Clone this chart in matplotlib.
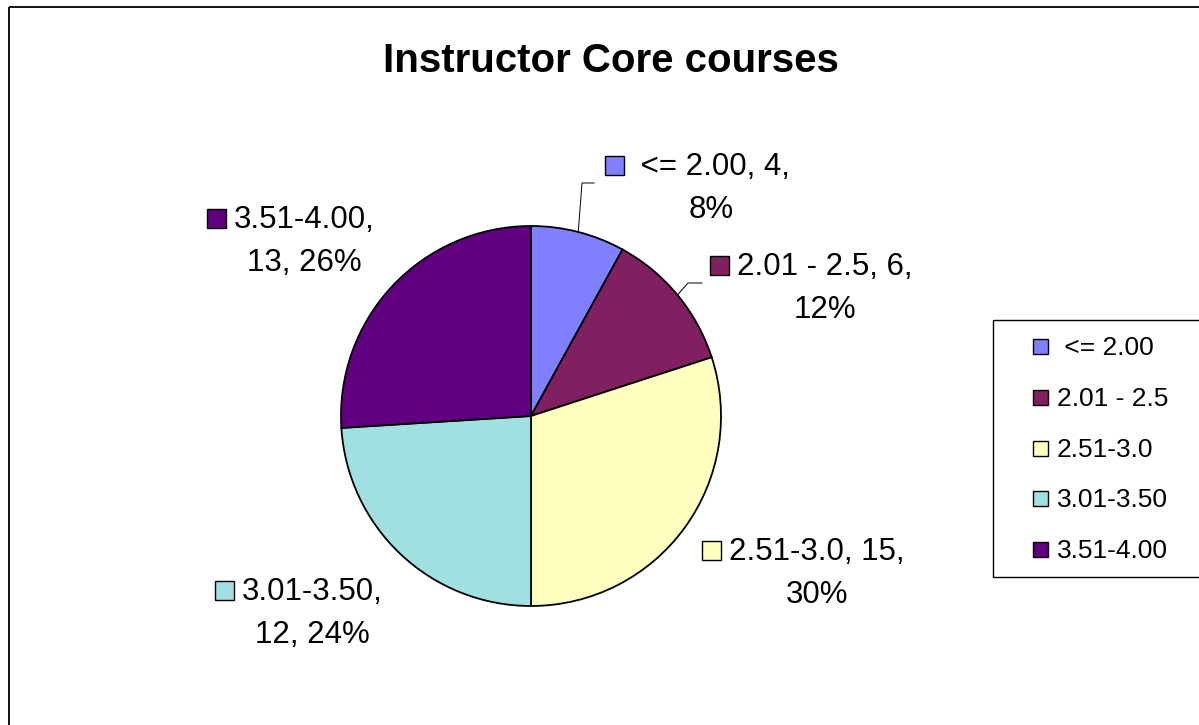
import matplotlib
matplotlib.use("Agg")
import matplotlib.pyplot as plt
import numpy as np
from matplotlib.patches import Rectangle

# data
categories = [" <= 2.00", "2.01 - 2.5", "2.51-3.0", "3.01-3.50", "3.51-4.00"]
counts = [4, 6, 15, 12, 13]
colors = ["#8080FF", "#802060", "#FFFFC0", "#A0E0E0", "#600080"]
title = "Instructor Core courses"

# where the line break goes in each data label ("value" keeps the count on line 1)
wrap_after = ["value", "value", "value", "name", "name"]

W, H = 1199, 725
plt.rcParams["font.family"] = ["Liberation Sans", "DejaVu Sans"]

fig = plt.figure(figsize=(W / 100, H / 100), dpi=100)
ax = fig.add_axes([0, 0, 1, 1])

# pie in pixel coordinates (y axis flipped below, so counterclock=True runs clockwise on screen)
cx, cy, r = 531, 416, 190
wedges, _ = ax.pie(counts, colors=colors, startangle=270, counterclock=True,
                   center=(cx, cy), radius=r,
                   wedgeprops=dict(edgecolor="black", linewidth=1.3))
ax.set_xlim(0, W)
ax.set_ylim(H, 0)
ax.set_aspect("equal")
ax.axis("off")

# outer chart frame
ax.add_patch(Rectangle((9, 7), W, H, fill=False, edgecolor="black", linewidth=1.3, clip_on=False))

ax.text(611, 72, title, ha="center", va="baseline", fontsize=29, fontweight="bold")

# data labels: text centre x, first baseline
label_pos = [(711, 175), (825, 275), (817, 560), (312, 600), (304, 228)]
line_gap = 43
total = sum(counts)
texts = []
for cat, n, mode, (tx, ty) in zip(categories, counts, wrap_after, label_pos):
    pct = round(100 * n / total)
    if mode == "value":
        l1, l2 = f"{cat}, {n},", f"{pct}%"
    else:
        l1, l2 = f"{cat},", f"{n}, {pct}%"
    t = ax.text(tx, ty, l1, ha="center", va="baseline", fontsize=22.5)
    ax.text(tx, ty + line_gap, l2, ha="center", va="baseline", fontsize=22.5)
    texts.append(t)

# key squares to the left of the first label line
fig.canvas.draw()
renderer = fig.canvas.get_renderer()
inv = ax.transData.inverted()
for t, col, (tx, ty) in zip(texts, colors, label_pos):
    bb = t.get_window_extent(renderer)
    left = inv.transform((bb.x0, bb.y0))[0]
    sq = 19
    ax.add_patch(Rectangle((left - sq - 8, ty - sq), sq, sq, facecolor=col,
                           edgecolor="black", linewidth=1.0))

# leader lines for the two small slices
leaders = {0: (594, 183, 582), 1: (702, 283, 688)}
for i, (x0, y0, xb) in leaders.items():
    w = wedges[i]
    mid = np.deg2rad((w.theta1 + w.theta2) / 2)
    ex, ey = cx + r * np.cos(mid), cy + r * np.sin(mid)
    ax.plot([x0, xb, ex], [y0, y0, ey], color="black", linewidth=0.7)

# legend box
ax.add_patch(Rectangle((993, 320), 260, 257, fill=False, edgecolor="black", linewidth=1.0, clip_on=False))
row_base = [355, 406, 457, 507, 558]
for cat, col, yb in zip(categories, colors, row_base):
    ax.add_patch(Rectangle((1033, yb - 16), 15, 15, facecolor=col, edgecolor="black", linewidth=1.0))
    ax.text(1057, yb, cat, ha="left", va="baseline", fontsize=19)

fig.savefig("out.png", dpi=100)
